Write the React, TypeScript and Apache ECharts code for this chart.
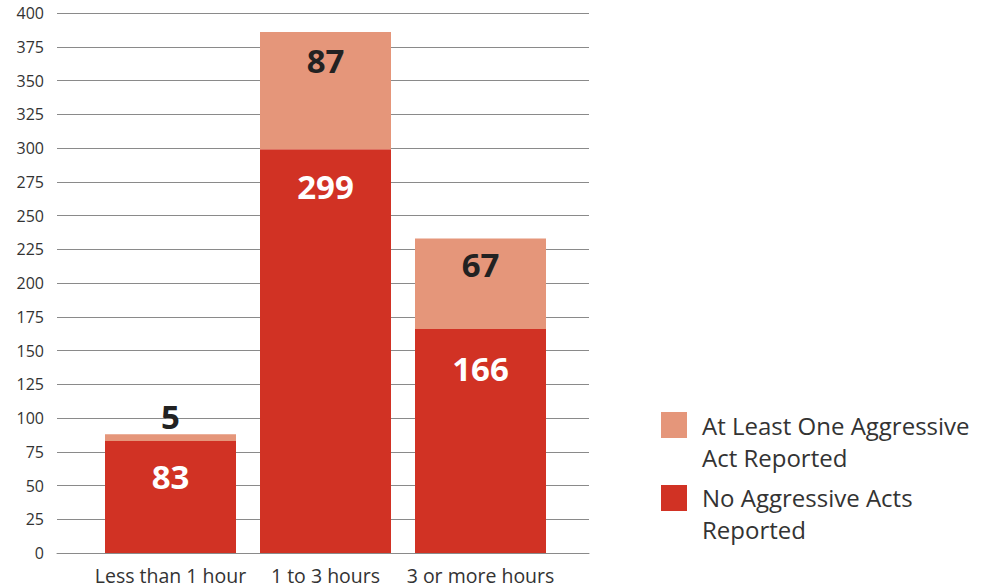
import React, { useEffect, useRef } from "react";
import * as echarts from "echarts";

const categories = ["Less than 1 hour", "1 to 3 hours", "3 or more hours"];
const noAggressive = [83, 299, 166];
const atLeastOne = [5, 87, 67];
const yTicks = [0, 25, 50, 75, 100, 125, 150, 175, 200, 225, 250, 275, 300, 325, 350, 375, 400];
const legendNames = ["At Least One Aggressive\nAct Reported", "No Aggressive Acts\nReported"];

const LIGHT = "#E5967A";
const DARK = "#D13224";
const FONT = "'Open Sans', Lato, sans-serif";

const noAggDist = [19, 21, 23];
const oneDist = [0, 12, 10];

export default function App() {
  const ref = useRef<HTMLDivElement>(null);
  useEffect(() => {
    if (!ref.current) return;
    const chart = echarts.init(ref.current, null, { renderer: "svg" });
    const yMin = yTicks[0];
    const yMax = yTicks[yTicks.length - 1];
    chart.setOption({
      animation: false,
      textStyle: { fontFamily: FONT },
      grid: [
        { left: 57, right: 417, top: 13, bottom: 34 },
        { left: 93, right: 448, top: 13, bottom: 34 },
      ],
      xAxis: [
        {
          type: "category",
          gridIndex: 0,
          data: [""],
          axisLine: { show: true, lineStyle: { color: "#8a8a8a", width: 1 } },
          axisTick: { show: false },
          axisLabel: { show: false },
        },
        {
          type: "category",
          gridIndex: 1,
          data: categories,
          axisLine: { show: false },
          axisTick: { show: false },
          axisLabel: { color: "#333", fontSize: 19.5, margin: 12, interval: 0, fontFamily: FONT },
        },
      ],
      yAxis: [
        {
          type: "value",
          gridIndex: 0,
          min: yMin,
          max: yMax,
          interval: 25,
          axisLine: { show: false },
          axisTick: { show: false },
          axisLabel: { color: "#333", fontSize: 16, margin: 13, fontFamily: FONT },
          splitLine: { lineStyle: { color: "#8a8a8a", width: 1 } },
        },
        {
          type: "value",
          gridIndex: 1,
          min: yMin,
          max: yMax,
          interval: 25,
          axisLine: { show: false },
          axisTick: { show: false },
          axisLabel: { show: false },
          splitLine: { show: false },
        },
      ],
      series: [
        {
          name: "No Aggressive Acts Reported",
          type: "bar",
          stack: "total",
          xAxisIndex: 1,
          yAxisIndex: 1,
          barWidth: 131,
          itemStyle: { color: DARK },
          data: noAggressive.map((v, i) => ({
            value: v,
            label: {
              show: true,
              position: "insideTop",
              distance: noAggDist[i],
              color: "#fff",
              fontSize: 33,
              fontWeight: "bold",
              fontFamily: FONT,
            },
          })),
        },
        {
          name: "At Least One Aggressive Act Reported",
          type: "bar",
          stack: "total",
          xAxisIndex: 1,
          yAxisIndex: 1,
          barWidth: 131,
          itemStyle: { color: LIGHT },
          data: atLeastOne.map((v, i) => ({
            value: v,
            label: {
              show: true,
              position: i === 0 ? "top" : "insideTop",
              distance: i === 0 ? 1 : oneDist[i],
              color: "#222",
              fontSize: 33,
              fontWeight: "bold",
              fontFamily: FONT,
            },
          })),
        },
      ],
      graphic: [
        { type: "rect", left: 661, top: 412, shape: { width: 26, height: 26 }, style: { fill: LIGHT } },
        {
          type: "text",
          left: 702,
          top: 409,
          style: { text: legendNames[0], fill: "#333", fontSize: 24, lineHeight: 32, fontFamily: FONT },
        },
        { type: "rect", left: 661, top: 485, shape: { width: 26, height: 26 }, style: { fill: DARK } },
        {
          type: "text",
          left: 702,
          top: 481,
          style: { text: legendNames[1], fill: "#333", fontSize: 24, lineHeight: 32, fontFamily: FONT },
        },
      ],
    });
    return () => chart.dispose();
  }, []);
  return (
    <div
      ref={ref}
      style={{ position: "fixed", left: 0, top: 0, width: 1006, height: 587, background: "#fff" }}
    />
  );
}
